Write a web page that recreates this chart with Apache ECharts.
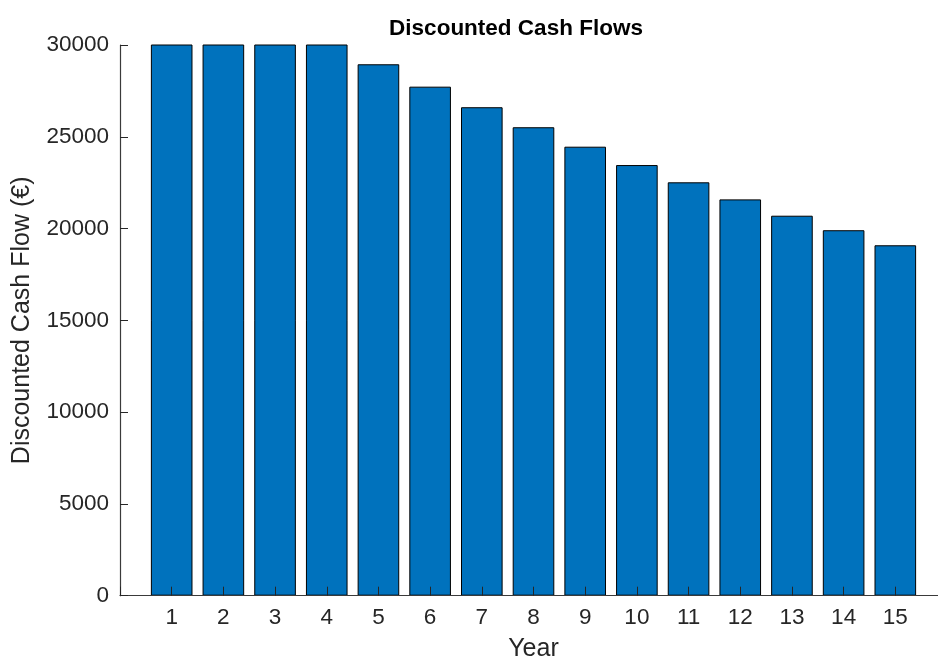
<!DOCTYPE html>
<html>
<head>
<meta charset="utf-8">
<script src="https://cdn.jsdelivr.net/npm/echarts@6/dist/echarts.min.js"></script>
<style>
html,body{margin:0;padding:0;background:#fff;}
#chart{width:938px;height:662px;}
</style>
</head>
<body>
<div id="chart"></div>
<script>
var years = [1,2,3,4,5,6,7,8,9,10,11,12,13,14,15];
var cashFlows = [34250,32840,31490,30190,28950,27730,26610,25520,24460,23460,22520,21590,20700,19910,19090];
var yTicks = [0,5000,10000,15000,20000,25000,30000];
var titleText = 'Discounted Cash Flows';
var xName = 'Year';
var yName = 'Discounted Cash Flow (€)';

var font = 'Liberation Sans, Arial, Helvetica, sans-serif';
var axisColor = '#262626';
var lineColor = '#3a3a3a';
var chart = echarts.init(document.getElementById('chart'), null, {renderer:'canvas'});
chart.setOption({
  animation:false,
  backgroundColor:'#fff',
  title:{
    text:titleText, left:516, top:17, textAlign:'center', padding:0,
    textStyle:{fontFamily:font, fontSize:22.5, fontWeight:'bold', color:'#000'}
  },
  grid:{left:120, top:45, width:827, height:550.7, containLabel:false, outerBoundsMode:'none'},
  xAxis:{
    type:'value', min:0, max:16, interval:1, z:10,
    name:xName, nameLocation:'middle', nameGap:41,
    nameTextStyle:{fontFamily:font, fontSize:25, color:axisColor},
    axisLine:{show:true, lineStyle:{color:lineColor, width:1.2}},
    axisTick:{show:true, inside:true, length:9, lineStyle:{color:axisColor, width:1}},
    axisLabel:{fontFamily:font, fontSize:22.5, color:axisColor, margin:11,
      formatter:function(v){ return (v>=1 && v<=15) ? String(v) : ''; }},
    splitLine:{show:false}
  },
  yAxis:{
    type:'value', min:yTicks[0], max:yTicks[yTicks.length-1], interval:yTicks[1]-yTicks[0], z:10,
    name:yName, nameLocation:'middle', nameGap:85,
    nameTextStyle:{fontFamily:font, fontSize:25, color:axisColor},
    axisLine:{show:true, lineStyle:{color:lineColor, width:1.2}},
    axisTick:{show:true, inside:true, length:8, lineStyle:{color:axisColor, width:1}},
    axisLabel:{fontFamily:font, fontSize:22.5, color:axisColor, margin:11,
      formatter:function(v){ return String(v); }},
    splitLine:{show:false}
  },
  series:[{
    type:'bar',
    data:years.map(function(y,i){return [y, cashFlows[i]];}),
    barWidth:41.6,
    clip:true,
    itemStyle:{color:'#0072BD', borderColor:'#000', borderWidth:1}
  }]
});
</script>
</body>
</html>
